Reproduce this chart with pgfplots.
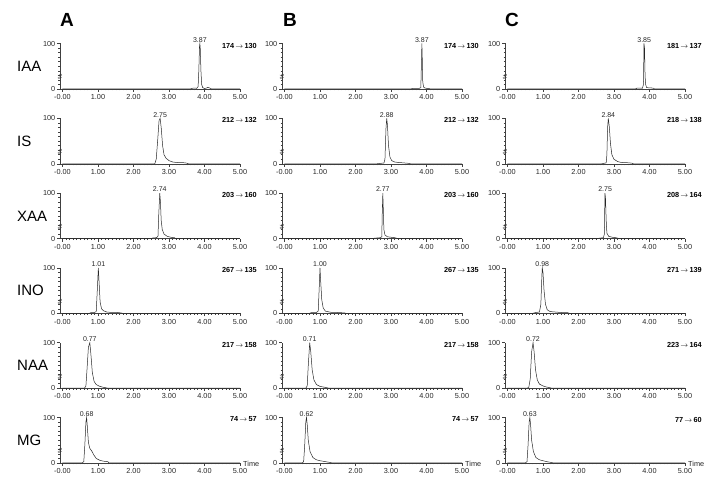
\documentclass[border=0pt]{standalone}
\usepackage{fontspec}
\setmainfont{Liberation Sans}
\usepackage{pgfplots}
\pgfplotsset{compat=1.18}
\pgfplotsset{
  chrom/.style={
    scale only axis, width=180pt, height=45.5pt, anchor=south west,
    xmin=-0.07, xmax=5, ymin=0, ymax=100,
    axis lines=left, axis line style={-, black!75, line width=0.5pt},
    tick align=outside,
    xtick={0,1,2,3,4,5}, xticklabels={-0.00,1.00,2.00,3.00,4.00,5.00},
    minor x tick num=9, ytick={0,100}, minor y tick num=9,
    major tick length=3pt, minor tick length=1.5pt,
    tick style={black!75, line width=0.4pt},
    ticklabel style={font=\fontsize{7.3}{8}\selectfont, text=black!85},
    xticklabel style={inner sep=1pt, yshift=-1.5pt},
    yticklabel style={inner sep=1.5pt},
    clip=false,
    /pgf/number format/assume math mode=true,
  },
  trace/.style={black!85, line width=0.5pt, mark=none},
}
\tikzset{
  peaklab/.style={font=\fontsize{7}{7}\selectfont, anchor=south, inner sep=1pt, text=black!85},
  translab/.style={font=\fontsize{7.3}{8}\selectfont\bfseries, anchor=east, inner sep=0pt, xshift=17pt, yshift=-2pt},
  pct/.style={font=\fontsize{6}{6}\selectfont, rotate=90, text=black!80},
}
\newcommand{\panel}[6]{%
\begin{axis}[chrom, at={(#1pt,#2pt)}]
\addplot[trace] coordinates {#3};
\node[peaklab] at (axis cs:#4,100) {#4};
\node[translab] at (rel axis cs:1,1) {#5};
\node[pct] at (rel axis cs:0,0.5) [xshift=-11pt] {\%};
#6
\end{axis}}
\newcommand{\timelab}{\node[font=\fontsize{7.3}{8}\selectfont, anchor=west, inner sep=0pt, text=black!85] at (rel axis cs:1,0) [xshift=3pt, yshift=-1pt] {Time};}
\begin{document}
\begin{tikzpicture}[x=1pt,y=1pt]
\path[use as bounding box] (0,0) rectangle (721,492);
% column letters
\node[font=\fontsize{19}{19}\selectfont\bfseries, anchor=west, inner sep=0pt] at (60,472) {A};
\node[font=\fontsize{19}{19}\selectfont\bfseries, anchor=west, inner sep=0pt] at (283,472) {B};
\node[font=\fontsize{19}{19}\selectfont\bfseries, anchor=west, inner sep=0pt] at (505,472) {C};
% row labels
\node[font=\fontsize{15}{15}\selectfont, anchor=west, inner sep=0pt] at (17,425.7) {IAA};
\node[font=\fontsize{15}{15}\selectfont, anchor=west, inner sep=0pt] at (17,350.9) {IS};
\node[font=\fontsize{15}{15}\selectfont, anchor=west, inner sep=0pt] at (17,276.1) {XAA};
\node[font=\fontsize{15}{15}\selectfont, anchor=west, inner sep=0pt] at (17,201.3) {INO};
\node[font=\fontsize{15}{15}\selectfont, anchor=west, inner sep=0pt] at (17,126.5) {NAA};
\node[font=\fontsize{15}{15}\selectfont, anchor=west, inner sep=0pt] at (17,51.7) {MG};
% ---------- row 1 IAA
\panel{60}{403}{(0,0)(3.6,0)(3.65,1.5)(3.72,2)(3.78,1.5)(3.82,5)(3.84,40)(3.86,95)(3.87,100)(3.88,90)(3.9,40)(3.92,10)(3.95,3)(4.0,1)(4.05,2)(4.1,3.5)(4.15,2)(4.2,0)(5,0)}{3.87}{174\,$\rightarrow$\,130}{}
\panel{282}{403}{(0,0)(3.55,0)(3.6,1)(3.7,1.5)(3.8,1.5)(3.84,3)(3.855,50)(3.87,100)(3.88,70)(3.895,15)(3.92,4)(3.96,2)(4.05,1)(4.15,0)(5,0)}{3.87}{174\,$\rightarrow$\,130}{}
\panel{505}{403}{(0,0)(3.6,0)(3.65,2)(3.75,2)(3.8,1.5)(3.83,10)(3.845,100)(3.86,90)(3.875,30)(3.89,10)(3.92,3)(4.0,2.5)(4.1,2)(4.15,0)(5,0)}{3.85}{181\,$\rightarrow$\,137}{}
% ---------- row 2 IS
\panel{60}{328.2}{(0,0)(2.6,0)(2.64,10)(2.68,50)(2.72,95)(2.75,100)(2.78,80)(2.82,40)(2.86,20)(2.92,12)(3.0,7)(3.1,4)(3.2,3)(3.3,2.5)(3.4,2.5)(3.5,1.5)(3.55,0)(5,0)}{2.75}{212\,$\rightarrow$\,132}{}
\panel{282}{328.2}{(0,0)(2.6,0)(2.7,1)(2.8,1.5)(2.83,10)(2.86,80)(2.88,100)(2.9,85)(2.93,40)(2.97,15)(3.02,7)(3.1,4)(3.2,3)(3.35,2)(3.5,1)(3.55,0)(5,0)}{2.88}{212\,$\rightarrow$\,132}{}
\panel{505}{328.2}{(0,0)(2.65,0)(2.72,1)(2.78,2)(2.8,20)(2.82,80)(2.84,100)(2.87,80)(2.9,45)(2.94,20)(3.0,10)(3.1,5)(3.2,3)(3.35,2.5)(3.5,1.5)(3.55,0)(5,0)}{2.84}{218\,$\rightarrow$\,138}{}
% ---------- row 3 XAA
\panel{60}{253.4}{(0,0)(2.5,0)(2.55,1.5)(2.65,2)(2.69,5)(2.71,50)(2.74,100)(2.76,80)(2.78,40)(2.81,20)(2.86,10)(2.95,5)(3.05,3)(3.15,2)(3.2,0)(5,0)}{2.74}{203\,$\rightarrow$\,160}{}
\panel{282}{253.4}{(0,0)(2.45,0)(2.55,1)(2.7,2)(2.74,4)(2.755,60)(2.77,100)(2.785,60)(2.8,20)(2.83,8)(2.9,4)(3.0,3)(3.1,2)(3.2,0)(5,0)}{2.77}{203\,$\rightarrow$\,160}{}
\panel{505}{253.4}{(0,0)(2.5,0)(2.6,1)(2.7,2)(2.73,10)(2.745,100)(2.76,90)(2.78,40)(2.8,12)(2.85,5)(2.95,3)(3.05,2)(3.15,0)(5,0)}{2.75}{208\,$\rightarrow$\,164}{}
% ---------- row 4 INO
\panel{60}{178.6}{(0,0)(0.75,0)(0.8,1.5)(0.9,2)(0.95,4)(0.98,50)(1.01,100)(1.03,70)(1.06,25)(1.1,10)(1.15,6)(1.25,3)(1.4,2)(1.55,2)(1.65,1)(1.7,0)(5,0)}{1.01}{267\,$\rightarrow$\,135}{}
\panel{282}{178.6}{(0,0)(0.7,0)(0.75,1.5)(0.9,2)(0.95,5)(0.98,60)(1.0,100)(1.02,70)(1.05,30)(1.09,12)(1.15,5)(1.3,2.5)(1.5,2)(1.7,1)(1.72,0)(5,0)}{1.00}{267\,$\rightarrow$\,135}{}
\panel{505}{178.6}{(0,0)(0.7,0)(0.8,2)(0.9,3)(0.94,20)(0.97,85)(0.98,100)(1.0,90)(1.03,50)(1.07,20)(1.12,8)(1.2,4)(1.35,3)(1.5,2)(1.7,1.5)(1.75,0)(5,0)}{0.98}{271\,$\rightarrow$\,139}{}
% ---------- row 5 NAA
\panel{60}{103.8}{(0,0)(0.62,0)(0.66,5)(0.69,40)(0.73,90)(0.77,100)(0.8,75)(0.84,35)(0.89,15)(0.95,8)(1.05,4)(1.15,2)(1.25,0.5)(1.3,0)(5,0)}{0.77}{217\,$\rightarrow$\,158}{}
\panel{282}{103.8}{(0,0)(0.6,0)(0.64,5)(0.67,50)(0.71,100)(0.74,80)(0.78,40)(0.83,18)(0.9,8)(1.0,4)(1.1,2.5)(1.2,1)(1.25,0)(5,0)}{0.71}{217\,$\rightarrow$\,158}{}
\panel{505}{103.8}{(0,0)(0.55,0)(0.6,2)(0.64,20)(0.68,80)(0.72,100)(0.75,80)(0.79,40)(0.84,18)(0.9,9)(1.0,5)(1.1,2.5)(1.2,1)(1.25,0)(5,0)}{0.72}{223\,$\rightarrow$\,164}{}
% ---------- row 6 MG
\panel{60}{29}{(0,0)(0.55,0)(0.6,3)(0.63,40)(0.66,90)(0.68,100)(0.7,80)(0.73,45)(0.77,32)(0.82,27)(0.88,18)(0.95,10)(1.05,6)(1.15,4)(1.28,3)(1.3,0)(5,0)}{0.68}{74\,$\rightarrow$\,57}{\timelab}
\panel{282}{29}{(0,0)(0.5,0)(0.54,3)(0.57,40)(0.6,90)(0.62,100)(0.64,85)(0.67,50)(0.72,25)(0.8,12)(0.9,7)(1.0,5)(1.15,3)(1.3,1)(1.35,0)(5,0)}{0.62}{74\,$\rightarrow$\,57}{\timelab}
\panel{505}{29}{(0,0)(0.5,0)(0.55,3)(0.58,40)(0.61,90)(0.63,100)(0.65,85)(0.68,50)(0.73,25)(0.8,12)(0.9,7)(1.0,5)(1.1,3)(1.25,1)(1.3,0)(5,0)}{0.63}{77\,$\rightarrow$\,60}{\timelab}
\end{tikzpicture}
\end{document}
